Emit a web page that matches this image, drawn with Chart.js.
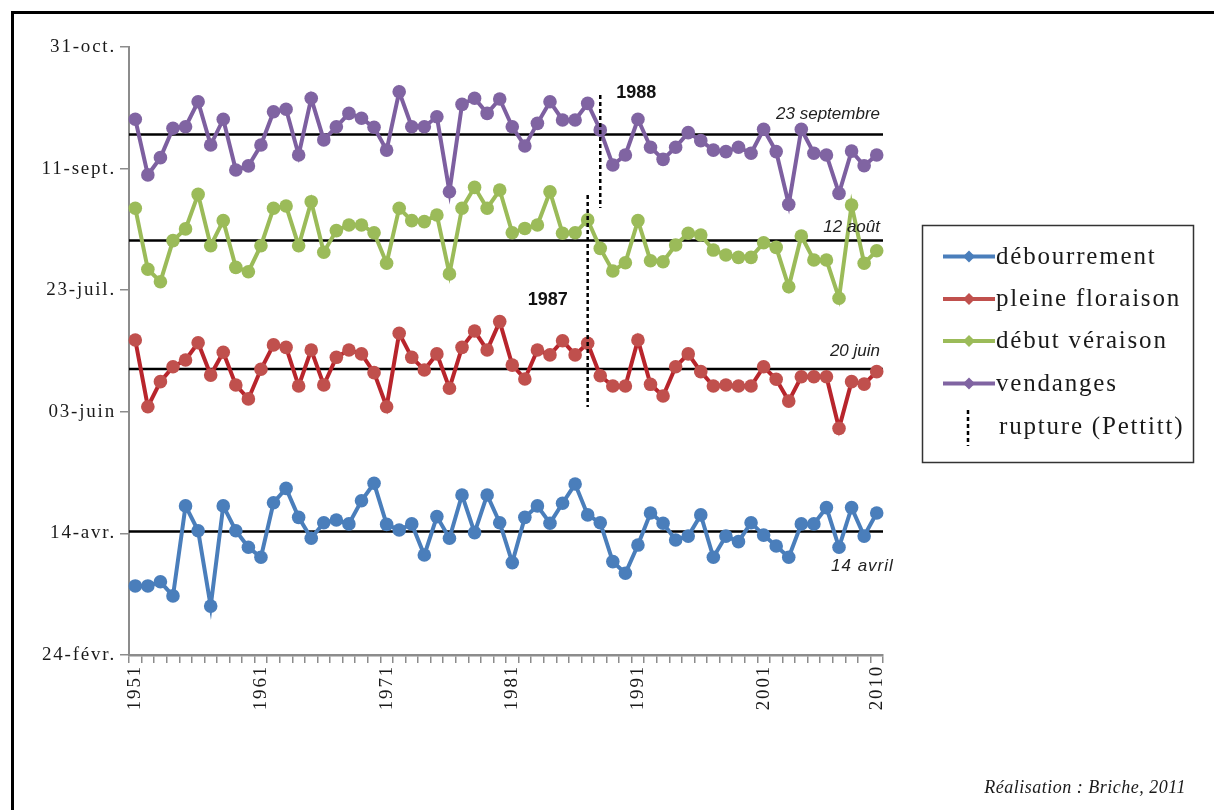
<!DOCTYPE html>
<html><head><meta charset="utf-8">
<script src="https://cdn.jsdelivr.net/npm/chart.js@4.4.0/dist/chart.umd.min.js"></script>
<style>
html,body{margin:0;padding:0;background:#fff;overflow:hidden;}
#wrap{position:relative;width:1214px;height:810px;}
#frame{position:absolute;left:11px;top:11px;width:1230px;height:830px;border:3px solid #000;box-sizing:border-box;pointer-events:none;}
canvas{position:absolute;left:0;top:0;}
</style></head><body>
<div id="wrap"><canvas id="c" width="1214" height="810"></canvas><div id="frame"></div></div>
<script>
// ---- categories ----
const years = ['1951','1952','1953','1954','1955','1956','1957','1958','1959','1960',
  '1961','1962','1963','1964','1965','1966','1967','1968','1969','1970',
  '1971','1972','1973','1974','1975','1976','1977','1978','1979','1980',
  '1981','1982','1983','1984','1985','1986','1987','1988','1989','1990',
  '1991','1992','1993','1994','1995','1996','1997','1998','1999','2000',
  '2001','2002','2003','2004','2005','2006','2007','2008','2009','2010'];
// ---- y ticks (day serial, 24 Feb = 55) ----
const yTickValues = [55,105,155,205,255,305];
const yTickLabels = ['24-févr.','14-avr.','03-juin','23-juil.','11-sept.','31-oct.'];
// ---- series (day of year) ----
const seriesNames = ['débourrement','pleine floraison','début véraison','vendanges'];
const debourrement = [83.4,83.4,85.1,79.3,116.3,106.1,75.1,116.3,106.1,99.3,
  95.2,117.6,123.5,111.6,103.0,109.4,110.5,108.9,118.4,125.6,
  108.7,106.4,108.9,96.1,111.9,103.0,120.8,105.3,120.8,109.4,
  93.0,111.6,116.3,109.2,117.4,125.3,112.6,109.4,93.4,88.6,
  100.2,113.4,109.2,102.3,103.9,112.6,95.2,103.9,101.6,109.4,
  104.3,99.8,95.2,108.9,108.9,115.6,99.3,115.6,103.9,113.4];
const pleineFloraison = [184.5,157.1,167.4,173.5,176.3,183.4,170.1,179.5,166.0,160.3,
  172.5,182.5,181.5,165.6,180.4,166.0,177.4,180.4,178.8,171.1,
  157.1,187.3,177.4,172.2,178.8,164.7,181.5,188.2,180.4,192.1,
  174.2,168.5,180.4,178.4,184.2,178.4,183.2,169.8,165.6,165.6,
  184.5,166.3,161.5,173.5,178.8,171.5,165.6,166.0,165.6,165.6,
  173.5,168.4,159.4,169.4,169.4,169.4,148.2,167.4,166.4,171.5];
const debutVeraison = [238.7,213.6,208.5,225.4,230.2,244.4,223.3,233.6,214.4,212.6,
  223.3,238.7,239.6,223.3,241.4,220.6,229.5,231.8,231.8,228.6,
  216.1,238.7,233.6,233.2,235.9,211.7,238.7,247.3,238.7,246.2,
  228.6,230.4,231.8,245.5,228.4,228.6,233.9,222.2,212.9,216.3,
  233.6,217.1,216.7,223.6,228.4,227.7,221.5,219.5,218.5,218.5,
  224.5,222.6,206.4,227.3,217.4,217.4,201.7,240.0,216.1,221.2];
const vendanges = [275.3,252.4,259.5,271.6,272.2,282.5,264.7,275.3,254.4,256.1,
  264.7,278.4,279.4,260.6,283.9,266.8,272.2,277.7,275.7,272.0,
  262.6,286.6,272.2,272.2,276.3,245.5,281.4,283.9,277.7,283.6,
  272.2,264.3,273.6,282.5,275.0,275.0,281.8,270.9,256.5,260.6,
  275.3,263.8,258.8,263.8,269.8,266.5,262.6,262.0,263.8,261.3,
  271.2,262.0,240.3,271.2,261.3,260.6,244.8,262.2,256.2,260.6];
// ---- mean lines ----
const meanValues = [105.8,172.6,225.4,269.0];
const meanLabels = ['14 avril','20 juin','12 août','23 septembre'];
// ---- Pettitt ruptures ----
const ruptureYears = ['1988','1987'];
const ruptureLow = [238.8,157.0];
const ruptureHigh = [285.3,244.1];
const legendRuptureLabel = 'rupture (Pettitt)';
const creditText = 'Réalisation : Briche, 2011';

const colors = ['#4A7EBB','#C0504D','#9BBB59','#8064A2'];
const lineColors = ['#4A7EBB','#B8252C','#9BBB59','#7D5FA0'];
const seriesData = [debourrement,pleineFloraison,debutVeraison,vendanges];

const SERIF = '"Liberation Serif", "Times New Roman", serif';
const SANS = '"Liberation Sans", Arial, sans-serif';

const extras = {
  id:'extras',
  beforeLayout(chart){ chart.ctx.letterSpacing='1.8px'; },
  beforeDraw(chart){ chart.ctx.letterSpacing='1.8px'; },
  beforeDatasetsDraw(chart){
    const {ctx,chartArea,scales:{y}} = chart;
    ctx.save();
    ctx.strokeStyle='#000'; ctx.lineWidth=2.5;
    meanValues.forEach(v=>{
      const py=y.getPixelForValue(v);
      ctx.beginPath(); ctx.moveTo(chartArea.left,py); ctx.lineTo(chartArea.right,py); ctx.stroke();
    });
    ctx.restore();
  },
  afterDatasetsDraw(chart){
    const {ctx,chartArea,scales:{x,y}} = chart;
    ctx.save();
    ctx.letterSpacing='0px';
    // rupture lines
    ctx.strokeStyle='#000'; ctx.lineWidth=2.5; ctx.setLineDash([4,3]);
    ruptureYears.forEach((yr,k)=>{
      const px=x.getPixelForValue(years.indexOf(yr));
      ctx.beginPath(); ctx.moveTo(px,y.getPixelForValue(ruptureHigh[k])); ctx.lineTo(px,y.getPixelForValue(ruptureLow[k])); ctx.stroke();
    });
    ctx.setLineDash([]);
    // rupture labels
    ctx.fillStyle='#111'; ctx.font='bold 18px '+SANS; ctx.textBaseline='middle';
    let p0=x.getPixelForValue(years.indexOf(ruptureYears[0]));
    ctx.textAlign='left'; ctx.fillText(ruptureYears[0],p0+16,y.getPixelForValue(ruptureHigh[0])-2);
    let p1=x.getPixelForValue(years.indexOf(ruptureYears[1]));
    ctx.textAlign='right'; ctx.fillText(ruptureYears[1],p1-20,y.getPixelForValue(201));
    // mean labels
    ctx.font='italic 17px '+SANS; ctx.fillStyle='#222';
    const offs=[34.5,-18,-13,-20];
    meanValues.forEach((v,k)=>{
      const py=y.getPixelForValue(v)+offs[k];
      if(k===0){ctx.textAlign='left'; ctx.letterSpacing='1px'; ctx.fillText(meanLabels[k],chartArea.right-52,py); ctx.letterSpacing='0px';}
      else {ctx.textAlign='right'; ctx.fillText(meanLabels[k],chartArea.right-3,py);}
    });
    // legend
    ctx.strokeStyle='#333'; ctx.lineWidth=1.5;
    ctx.strokeRect(922.5,225.5,271,237);
    const rows=[256.5,299,341,383.5];
    ctx.font='25px '+SERIF; ctx.letterSpacing='1.8px'; ctx.textAlign='left'; ctx.textBaseline='alphabetic';
    seriesNames.forEach((n,k)=>{
      const ry=rows[k];
      ctx.strokeStyle=colors[k]; ctx.lineWidth=4;
      ctx.beginPath(); ctx.moveTo(943,ry); ctx.lineTo(995,ry); ctx.stroke();
      ctx.fillStyle=colors[k];
      ctx.beginPath(); ctx.moveTo(969,ry-6); ctx.lineTo(975,ry); ctx.lineTo(969,ry+6); ctx.lineTo(963,ry); ctx.closePath(); ctx.fill();
      ctx.fillStyle='#1a1a1a';
      ctx.fillText(n,996,ry+7);
    });
    ctx.strokeStyle='#000'; ctx.lineWidth=2.5; ctx.setLineDash([4,3]);
    ctx.beginPath(); ctx.moveTo(968,410); ctx.lineTo(968,446); ctx.stroke(); ctx.setLineDash([]);
    ctx.fillStyle='#1a1a1a'; ctx.fillText(legendRuptureLabel,999,434);
    // credit
    ctx.letterSpacing='0.5px';
    ctx.font='italic 18px '+SERIF; ctx.textAlign='right';
    ctx.fillText(creditText,1186,793);
    ctx.restore();
  }
};

new Chart(document.getElementById('c'),{
  type:'line',
  data:{
    labels:years,
    datasets:seriesData.map((d,k)=>({
      label:seriesNames[k], data:d,
      borderColor:lineColors[k], borderWidth:4,
      pointBackgroundColor:colors[k], pointBorderColor:colors[k], pointBorderWidth:0,
      pointRadius:6.8, pointHoverRadius:6.8, tension:0, fill:false
    }))
  },
  options:{
    responsive:false, animation:false, devicePixelRatio:1,
    layout:{padding:{top:47,left:0,right:331,bottom:0}},
    plugins:{legend:{display:false},tooltip:{enabled:false}},
    events:[],
    scales:{
      x:{type:'category',offset:true,
        grid:{offset:true,drawOnChartArea:false,drawTicks:true,tickLength:8,color:'#8c8c8c',lineWidth:1.5},
        border:{display:true,color:'#8c8c8c',width:2.5},
        ticks:{autoSkip:false,maxRotation:90,minRotation:90,padding:2,color:'#1a1a1a',
          font:{family:SERIF,size:19},
          callback:function(v,i){return (i%10===0||i===years.length-1)?years[i]:'';}},
        afterFit:s=>{s.height=155;}
      },
      y:{type:'linear',min:55,max:305,
        afterBuildTicks:s=>{s.ticks=yTickValues.map(v=>({value:v}));},
        grid:{drawOnChartArea:false,drawTicks:true,tickLength:9,color:'#8c8c8c',lineWidth:1.5},
        border:{display:true,color:'#8c8c8c',width:2},
        ticks:{padding:4,color:'#1a1a1a',font:{family:SERIF,size:19},
          callback:v=>yTickLabels[yTickValues.indexOf(v)]},
        afterFit:s=>{s.width=129;}
      }
    }
  },
  plugins:[extras]
});
</script>
</body></html>
